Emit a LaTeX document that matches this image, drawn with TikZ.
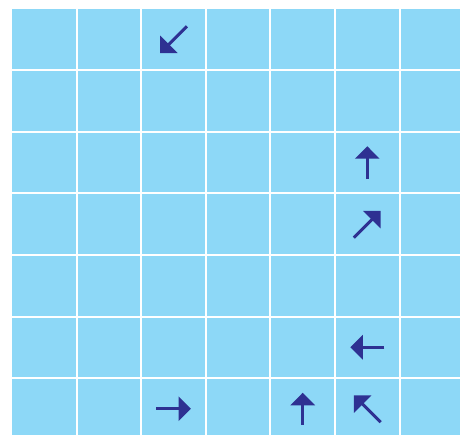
\documentclass[tikz,border=0pt]{standalone}
\usetikzlibrary{arrows.meta,calc}
\definecolor{cellblue}{HTML}{8DD8F7}
\definecolor{arrowblue}{HTML}{2E3192}
\tikzset{
  gridline/.style={white,line width=2pt},
  dirarrow/.style={arrowblue,line width=3pt,-{Triangle[length=12.5pt,width=24pt]}}
}
\begin{document}
\begin{tikzpicture}[x=1pt,y=-1pt]
\useasboundingbox (0,0) rectangle (460,435);
\fill[white] (0,0) rectangle (460,435);
\fill[cellblue] (12,9) rectangle (460,435);
\foreach \k in {1,...,6} {
  \draw[gridline] ({12+64.6*\k},9) -- ({12+64.6*\k},435);
  \draw[gridline] (12,{9+61.5*\k}) -- (460,{9+61.5*\k});
}
\foreach \c/\r/\a/\l in {2/0/225/38, 5/2/90/33, 5/3/45/38, 5/5/180/34, 2/6/0/35, 4/6/90/32, 5/6/135/38} {
  \coordinate (m-\c-\r) at ({12+64.6*(\c+0.5)},{9+61.5*(\r+0.5)});
  \coordinate (s-\c-\r) at ($(m-\c-\r)+(\a+180:\l/2 pt)$);
  \coordinate (e-\c-\r) at ($(m-\c-\r)+(\a:\l/2 pt)$);
  \draw[dirarrow] (s-\c-\r) -- (e-\c-\r);
}
\end{tikzpicture}
\end{document}
